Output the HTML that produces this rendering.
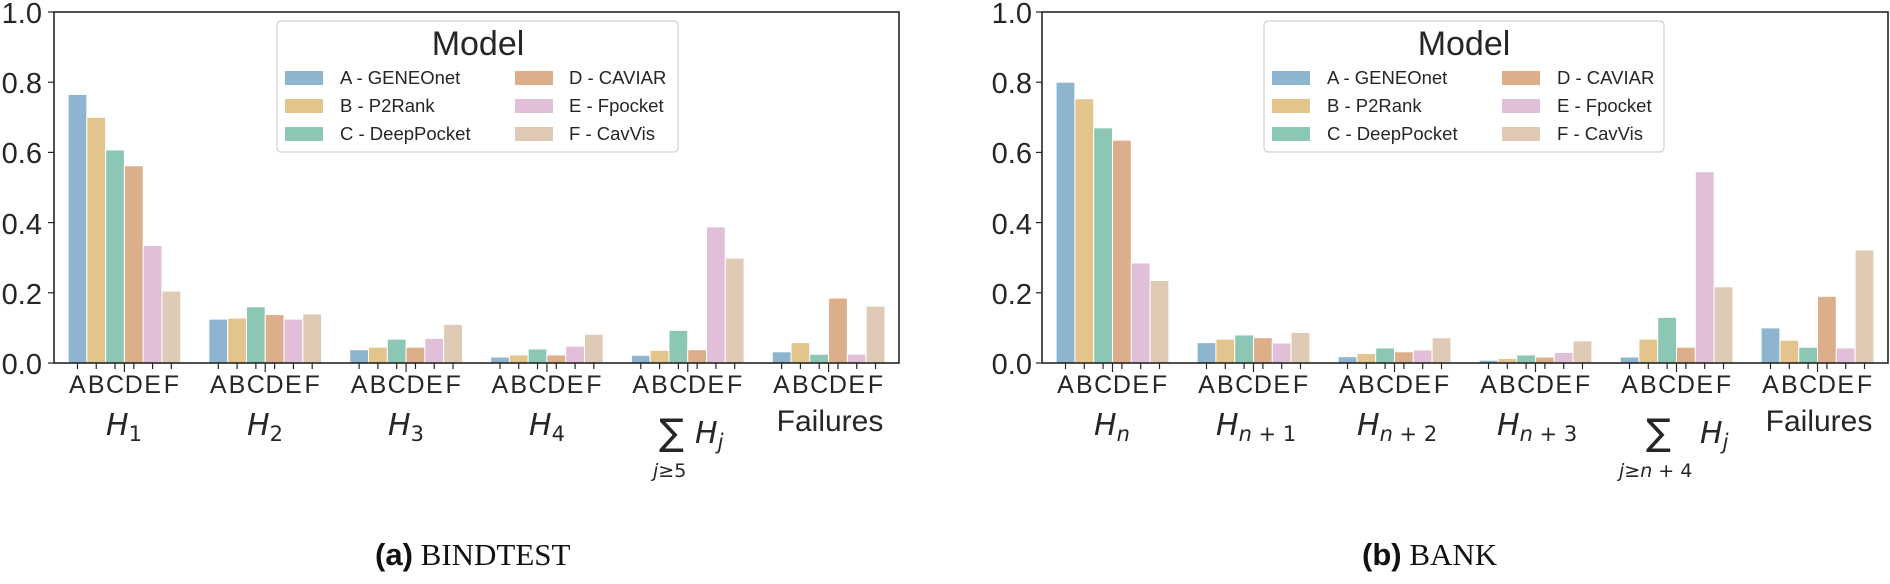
<!DOCTYPE html>
<html><head><meta charset="utf-8"><style>
html,body{margin:0;padding:0;background:#fff;}
svg{display:block;font-family:"Liberation Sans",sans-serif;}
.t{font-size:29px;fill:#262626;}
.l{font-size:25px;fill:#262626;text-anchor:middle;}
.m{font-family:"DejaVu Sans",sans-serif;font-style:italic;fill:#262626;}
.lg{font-size:18.5px;fill:#262626;}
</style></head><body>
<svg id="s" width="1890" height="584" viewBox="0 0 1890 584" xmlns="http://www.w3.org/2000/svg">
<g id="bars"></g>
<rect x="54" y="12" width="845" height="351" fill="none" stroke="#262626" stroke-width="1.6"/>
<rect x="1042" y="12" width="846" height="351" fill="none" stroke="#262626" stroke-width="1.6"/>
<g class="t" text-anchor="end">
<text x="42" y="23">1.0</text><text x="42" y="93">0.8</text><text x="42" y="163">0.6</text><text x="42" y="234">0.4</text><text x="42" y="304">0.2</text><text x="42" y="374">0.0</text>
<text x="1032" y="23">1.0</text><text x="1032" y="93">0.8</text><text x="1032" y="163">0.6</text><text x="1032" y="234">0.4</text><text x="1032" y="304">0.2</text><text x="1032" y="374">0.0</text>
</g>
<g class="l">
<text transform="translate(124.4,393)" x="-47 -28.2 -9.4 9.4 28.2 47">ABCDEF</text>
<text transform="translate(265.2,393)" x="-47 -28.2 -9.4 9.4 28.2 47">ABCDEF</text>
<text transform="translate(406.1,393)" x="-47 -28.2 -9.4 9.4 28.2 47">ABCDEF</text>
<text transform="translate(546.9,393)" x="-47 -28.2 -9.4 9.4 28.2 47">ABCDEF</text>
<text transform="translate(687.7,393)" x="-47 -28.2 -9.4 9.4 28.2 47">ABCDEF</text>
<text transform="translate(828.5,393)" x="-47 -28.2 -9.4 9.4 28.2 47">ABCDEF</text>
<text transform="translate(1112.5,393)" x="-47 -28.2 -9.4 9.4 28.2 47">ABCDEF</text>
<text transform="translate(1253.5,393)" x="-47 -28.2 -9.4 9.4 28.2 47">ABCDEF</text>
<text transform="translate(1394.5,393)" x="-47 -28.2 -9.4 9.4 28.2 47">ABCDEF</text>
<text transform="translate(1535.5,393)" x="-47 -28.2 -9.4 9.4 28.2 47">ABCDEF</text>
<text transform="translate(1676.5,393)" x="-47 -28.2 -9.4 9.4 28.2 47">ABCDEF</text>
<text transform="translate(1817.5,393)" x="-47 -28.2 -9.4 9.4 28.2 47">ABCDEF</text>
</g>
<g class="m" font-size="30">
<text x="106" y="435">H<tspan font-size="21" font-style="normal" dy="6">1</tspan></text>
<text x="247" y="435">H<tspan font-size="21" font-style="normal" dy="6">2</tspan></text>
<text x="388" y="435">H<tspan font-size="21" font-style="normal" dy="6">3</tspan></text>
<text x="529" y="435">H<tspan font-size="21" font-style="normal" dy="6">4</tspan></text>
<text x="695" y="443">H<tspan font-size="21" dy="6">j</tspan></text>
<text x="1094" y="435">H<tspan font-size="21" dy="6">n</tspan></text>
<text x="1216" y="435">H<tspan font-size="21" dy="6">n</tspan><tspan font-size="21" font-style="normal"> + 1</tspan></text>
<text x="1357" y="435">H<tspan font-size="21" dy="6">n</tspan><tspan font-size="21" font-style="normal"> + 2</tspan></text>
<text x="1497" y="435">H<tspan font-size="21" dy="6">n</tspan><tspan font-size="21" font-style="normal"> + 3</tspan></text>
<text x="1700" y="443">H<tspan font-size="21" dy="6">j</tspan></text>
</g>
<text x="659" y="445" font-family="DejaVu Sans,sans-serif" font-size="37" fill="#262626">∑</text>
<text x="653" y="477" font-family="DejaVu Sans,sans-serif" font-size="19" fill="#262626"><tspan font-style="italic">j</tspan>≥5</text>
<text x="1646" y="445" font-family="DejaVu Sans,sans-serif" font-size="37" fill="#262626">∑</text>
<text x="1619" y="477" font-family="DejaVu Sans,sans-serif" font-size="19" fill="#262626"><tspan font-style="italic">j</tspan>≥<tspan font-style="italic">n</tspan> + 4</text>
<text x="830" y="431" class="l" style="font-size:30px">Failures</text>
<text x="1819" y="431" class="l" style="font-size:30px">Failures</text>
<g>
<rect x="277" y="21" width="401" height="131" rx="4" fill="#fff" fill-opacity="0.85" stroke="#d0d0d0" stroke-width="1.2"/>
<text x="478" y="55" font-size="34" fill="#262626" text-anchor="middle">Model</text>
<rect x="285" y="71" width="38" height="14" fill="#8db5cf"/><text class="lg" x="340" y="84">A - GENEOnet</text>
<rect x="285" y="99" width="38" height="14" fill="#e3c48d"/><text class="lg" x="340" y="112">B - P2Rank</text>
<rect x="285" y="127" width="38" height="14" fill="#8cc6b5"/><text class="lg" x="340" y="140">C - DeepPocket</text>
<rect x="515" y="71" width="38" height="14" fill="#ddae8a"/><text class="lg" x="569" y="84">D - CAVIAR</text>
<rect x="515" y="99" width="38" height="14" fill="#e2bfd8"/><text class="lg" x="569" y="112">E - Fpocket</text>
<rect x="515" y="127" width="38" height="14" fill="#decab5"/><text class="lg" x="569" y="140">F - CavVis</text>
</g>
<g>
<rect x="1264" y="21" width="400" height="131" rx="4" fill="#fff" fill-opacity="0.85" stroke="#d0d0d0" stroke-width="1.2"/>
<text x="1464" y="55" font-size="34" fill="#262626" text-anchor="middle">Model</text>
<rect x="1272" y="71" width="38" height="14" fill="#8db5cf"/><text class="lg" x="1327" y="84">A - GENEOnet</text>
<rect x="1272" y="99" width="38" height="14" fill="#e3c48d"/><text class="lg" x="1327" y="112">B - P2Rank</text>
<rect x="1272" y="127" width="38" height="14" fill="#8cc6b5"/><text class="lg" x="1327" y="140">C - DeepPocket</text>
<rect x="1502" y="71" width="38" height="14" fill="#ddae8a"/><text class="lg" x="1557" y="84">D - CAVIAR</text>
<rect x="1502" y="99" width="38" height="14" fill="#e2bfd8"/><text class="lg" x="1557" y="112">E - Fpocket</text>
<rect x="1502" y="127" width="38" height="14" fill="#decab5"/><text class="lg" x="1557" y="140">F - CavVis</text>
</g>
<text x="375" y="565" font-size="31" fill="#111"><tspan font-weight="bold">(a)</tspan><tspan font-family="Liberation Serif,serif"> BINDTEST</tspan></text>
<text x="1362" y="565" font-size="31" fill="#111"><tspan font-weight="bold">(b)</tspan><tspan font-family="Liberation Serif,serif"> BANK</tspan></text>
</svg>
<script>
(function(){
var cols=["#8db5cf","#e3c48d","#8cc6b5","#ddae8a","#e2bfd8","#decab5"];
var L=[[.765,.70,.607,.562,.335,.205],[.125,.128,.16,.138,.125,.14],[.038,.045,.068,.045,.07,.11],[.017,.023,.04,.023,.048,.082],[.022,.036,.093,.038,.388,.299],[.032,.058,.025,.185,.025,.162]];
var R=[[.80,.753,.67,.635,.285,.235],[.058,.068,.08,.072,.057,.087],[.018,.027,.043,.032,.037,.072],[.008,.013,.023,.017,.03,.063],[.017,.068,.13,.045,.545,.217],[.10,.065,.045,.19,.043,.322]];
var g=document.getElementById("bars"),h="";
function panel(x0,w,D){var p=w/6,bw=p*0.8/6;
for(var k=0;k<6;k++){var c=x0+p*(k+.5);
for(var i=0;i<6;i++){var bx=c+(i-3)*bw,v=D[k][i],hh=v*351;
h+='<rect x="'+bx+'" y="'+(363-hh)+'" width="'+bw+'" height="'+hh+'" fill="'+cols[i]+'" stroke="#fff" stroke-width="1"/>';
h+='<line x1="'+(bx+bw/2)+'" x2="'+(bx+bw/2)+'" y1="363" y2="369" stroke="#262626" stroke-width="1.2"/>';}
h+='<line x1="'+c+'" x2="'+c+'" y1="363" y2="372" stroke="#262626" stroke-width="1.2"/>';}
for(var t=0;t<=5;t++){var y=363-t*0.2*351;h+='<line x1="'+(x0-6)+'" x2="'+x0+'" y1="'+y+'" y2="'+y+'" stroke="#262626" stroke-width="1.2"/>';}
}
panel(54,845,L);panel(1042,846,R);
g.innerHTML=h;
})();
</script>
</body></html>
